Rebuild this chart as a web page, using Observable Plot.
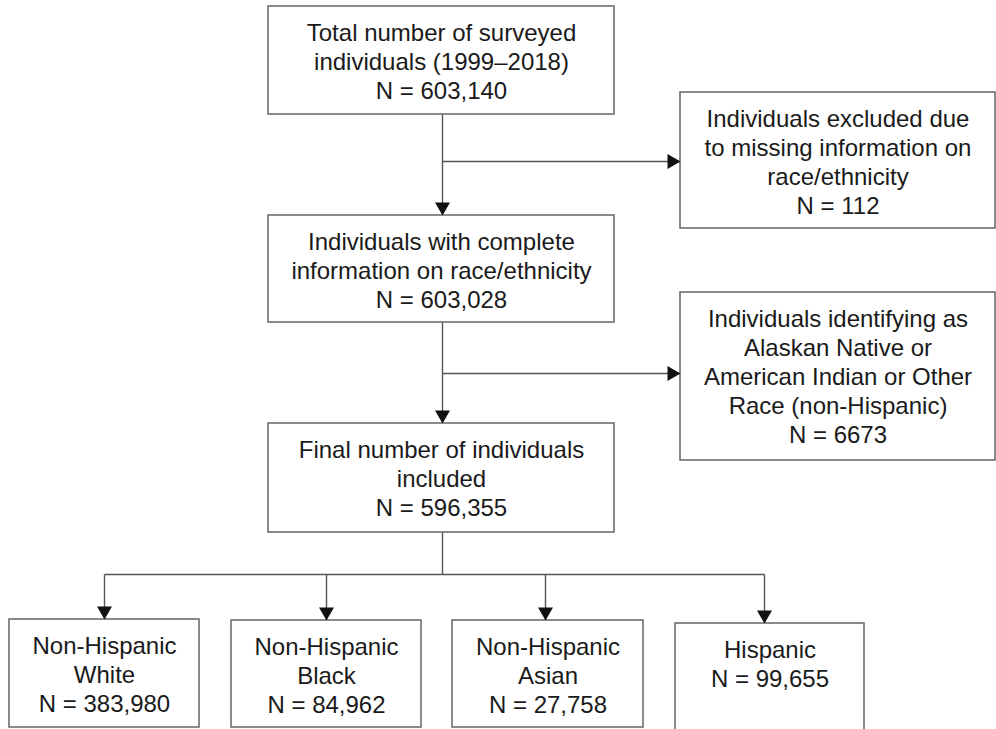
<!DOCTYPE html>
<html>
<head>
<meta charset="utf-8">
<script src="https://cdn.jsdelivr.net/npm/d3@7"></script>
<script src="https://cdn.jsdelivr.net/npm/@observablehq/plot@0.6"></script>
<style>
  html, body { margin: 0; padding: 0; background: #fff; overflow: hidden; }
  #chart svg { display: block; }
</style>
</head>
<body>
<div id="chart"></div>
<script>
// ---- Data ----
const stepIds = ["total", "excluded", "complete", "other", "final", "white", "black", "asian", "hispanic"];
const stepLabels = [
  "Total number of surveyed\nindividuals (1999–2018)",
  "Individuals excluded due\nto missing information on\nrace/ethnicity",
  "Individuals with complete\ninformation on race/ethnicity",
  "Individuals identifying as\nAlaskan Native or\nAmerican Indian or Other\nRace (non-Hispanic)",
  "Final number of individuals\nincluded",
  "Non-Hispanic\nWhite",
  "Non-Hispanic\nBlack",
  "Non-Hispanic\nAsian",
  "Hispanic"
];
const stepCounts = [603140, 112, 603028, 6673, 596355, 383980, 84962, 27758, 99655];
const flowFrom = ["total", "total", "complete", "complete", "final", "final", "final", "final"];
const flowTo   = ["complete", "excluded", "final", "other", "white", "black", "asian", "hispanic"];

// ---- Layout (pixels) ----
const layout = {
  total:    {x1: 268, x2: 614, y1: 6,   y2: 114},
  excluded: {x1: 680, x2: 995, y1: 92,  y2: 228},
  complete: {x1: 268, x2: 614, y1: 215, y2: 322},
  other:    {x1: 680, x2: 995, y1: 292, y2: 460},
  final:    {x1: 268, x2: 614, y1: 423, y2: 532},
  white:    {x1: 9,   x2: 199, y1: 619, y2: 727},
  black:    {x1: 231, x2: 421, y1: 620, y2: 727},
  asian:    {x1: 452, x2: 643, y1: 620, y2: 727},
  hispanic: {x1: 675, x2: 864, y1: 623, y2: 760}
};
const trunkX = 442;
const sideY = {excluded: 161, other: 373};
const busY = 574;
const bottomCenters = {white: 104, black: 326, asian: 545, hispanic: 764};

const fmtN = n => n >= 10000 ? d3.format(",")(n) : String(n);

const boxes = stepIds.map((id, i) => ({
  id, ...layout[id],
  text: stepLabels[i] + "\nN = " + fmtN(stepCounts[i])
}));

// connectors
const segs = [];
const heads = [];
flowFrom.forEach((from, i) => {
  const to = flowTo[i];
  const a = layout[from], b = layout[to];
  if (to in sideY) {
    segs.push({x1: trunkX, y1: sideY[to], x2: b.x1, y2: sideY[to]});
    heads.push({x: b.x1, y: sideY[to], dir: "right"});
  } else if (to in bottomCenters) {
    const cx = bottomCenters[to];
    segs.push({x1: cx, y1: busY, x2: cx, y2: b.y1});
    heads.push({x: cx, y: b.y1, dir: "down"});
  } else {
    segs.push({x1: trunkX, y1: a.y2, x2: trunkX, y2: b.y1});
    heads.push({x: trunkX, y: b.y1, dir: "down"});
  }
});
// trunk from final box down to bus, and bus line
segs.push({x1: trunkX, y1: layout.final.y2, x2: trunkX, y2: busY});
const bcs = Object.values(bottomCenters);
segs.push({x1: d3.min(bcs), y1: busY, x2: d3.max(bcs), y2: busY});

const W = 15, H = 13;
const symDown = {draw(ctx) { ctx.moveTo(0, 0); ctx.lineTo(-W/2, -H); ctx.lineTo(W/2, -H); ctx.closePath(); }};
const symRight = {draw(ctx) { ctx.moveTo(0, 0); ctx.lineTo(-H, -W/2); ctx.lineTo(-H, W/2); ctx.closePath(); }};

const chart = Plot.plot({
  width: 996,
  height: 729,
  margin: 0,
  x: {domain: [0, 996], range: [0, 996], axis: null},
  y: {domain: [0, 729], range: [0, 729], axis: null},
  style: {background: "#fff"},
  marks: [
    Plot.link(segs, {x1: "x1", y1: "y1", x2: "x2", y2: "y2", stroke: "#555", strokeWidth: 1.4}),
    Plot.rect(boxes, {x1: "x1", x2: "x2", y1: "y1", y2: "y2", fill: "#fff", stroke: "#6e6e6e", strokeWidth: 1.6}),
    Plot.dot(heads.filter(d => d.dir === "down"), {x: "x", y: "y", symbol: symDown, fill: "#111", stroke: "none", r: 5}),
    Plot.dot(heads.filter(d => d.dir === "right"), {x: "x", y: "y", symbol: symRight, fill: "#111", stroke: "none", r: 5}),
    Plot.text(boxes, {
      x: d => (d.x1 + d.x2) / 2,
      y: d => d.y1 + 14,
      text: "text",
      lineAnchor: "top",
      lineHeight: 1.21,
      fontSize: 24,
      fontFamily: "Liberation Sans, Arial, Helvetica, sans-serif",
      fill: "#1a1a1a",
      textAnchor: "middle"
    })
  ]
});
document.getElementById("chart").appendChild(chart);
</script>
</body>
</html>
